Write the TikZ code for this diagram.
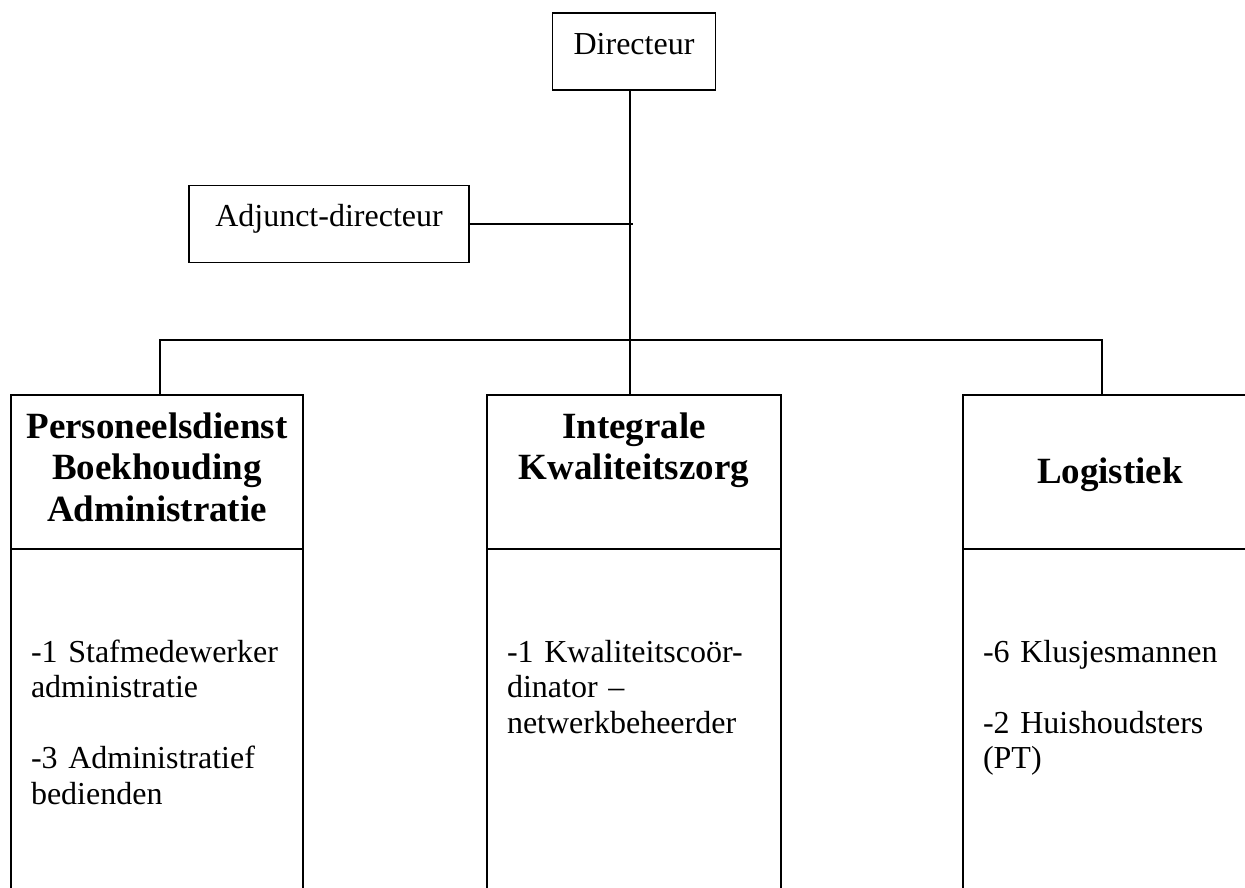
\documentclass[tikz,border=0pt]{standalone}
\usepackage{fontspec}
\setmainfont{Liberation Serif}
\usetikzlibrary{positioning}

\begin{document}
\begin{tikzpicture}[x=1pt, y=-1pt, line width=1.7pt,
		every node/.style={draw=black, rectangle, outer sep=0pt, inner sep=0pt},
		smallbox/.style={minimum width=#1, text height=41pt, text depth=36pt, font=\fontsize{32}{35.5}\selectfont},
		hdrbox/.style={text width=#1, align=center, text height=43pt, text depth=111pt, font=\bfseries\fontsize{37}{41.5}\selectfont},
		listbox/.style={text width=#1, inner xsep=20pt, align=left, text height=113pt, text depth=238pt, font=\fontsize{32}{35.5}\selectfont}]
	\useasboundingbox (0,0) rectangle (1245,887);
	\clip (0,0) rectangle (1245,887);
	\node[smallbox=163pt] (dir) at (634,51.5){Directeur};
	\node[smallbox=280pt] (adj) at (329,224){Adjunct-directeur};
	\node[hdrbox=292pt] (pershdr) at (157,472){Personeelsdienst\\Boekhouding\\Administratie};
	\node[hdrbox=294pt] (kwalhdr) at (634,472){Integrale\\Kwaliteitszorg};
	\node[hdrbox=294pt, text height=88pt, text depth=66pt] (loghdr) at (1110,472){Logistiek};
	\node[listbox=252pt, below=0pt of pershdr] (perslist){-1 Stafmedewerker\\administratie\\[35.5pt]-3 Administratief\\bedienden};
	\node[listbox=254pt, below=0pt of kwalhdr] (kwallist){-1 Kwaliteitscoör-\\dinator –\\netwerkbeheerder};
	\node[listbox=254pt, below=0pt of loghdr] (loglist){-6 Klusjesmannen\\[35.5pt]-2 Huishoudsters\\(PT)};
	\coordinate (bus) at (630,340);
	\draw[-] ([xshift=-4pt]dir.south) -- ([xshift=-4pt]kwalhdr.north);
	\draw[-, shorten >=-3pt] (adj) -- (adj -| bus);
	\draw[-] ([xshift=3pt]pershdr.north) |- (bus) -| ([xshift=-8pt]loghdr.north);
\end{tikzpicture}
\end{document}
